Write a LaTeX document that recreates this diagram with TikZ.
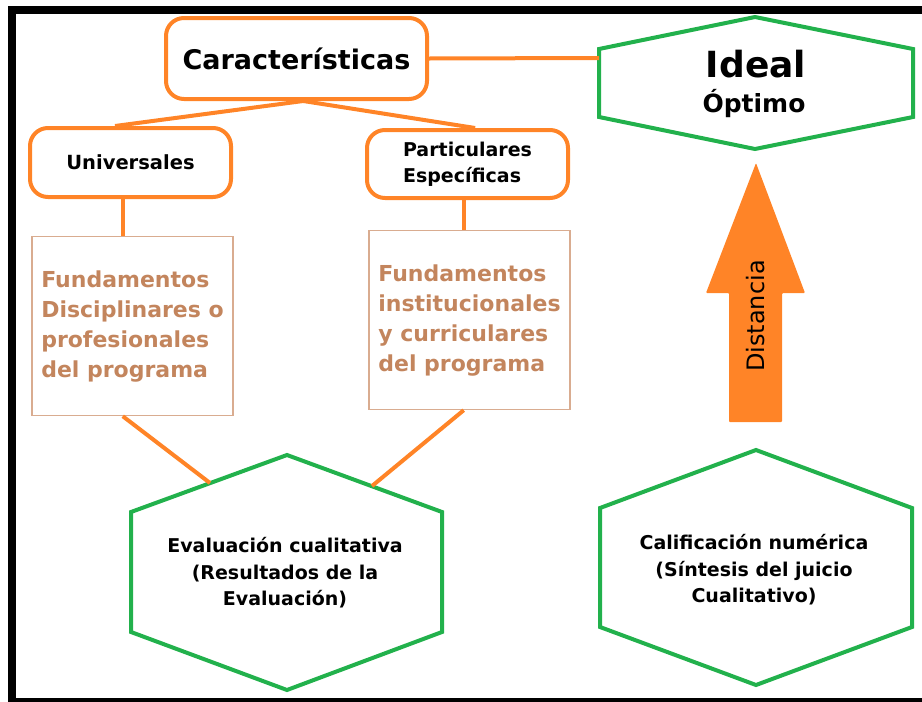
\documentclass[tikz,border=0pt]{standalone}
\usepackage{fontspec}
\setmainfont{DejaVu Sans}
\usetikzlibrary{
	positioning,   %定位
	calc           %计算
}
\definecolor{naranja}{HTML}{FF8427}
\definecolor{verde}{HTML}{22B14C}
\definecolor{cafe}{HTML}{C3855D}
\definecolor{cafeclaro}{HTML}{D9AC90}
\tikzstyle{caja}=[rectangle,
draw=naranja,
line width=4pt,
rounded corners=18pt,
inner sep=0pt]
\tikzstyle{fund}=[rectangle,
draw=cafeclaro,
line width=1.2pt,
text=cafe,
minimum width=201pt,
minimum height=179pt,
align=left,
inner sep=0pt,
font=\bfseries\fontsize{22}{30}\selectfont]
\tikzset{
	linea/.style={draw=naranja,line width=4pt},
	hexa/.style={draw=verde,line width=4pt,line join=miter},
	hexatexto/.style={align=center,font=\bfseries\fontsize{19}{26.5}\selectfont}
}

\begin{document}
\begin{tikzpicture}[x=1pt,y=-1pt]
\useasboundingbox (0,0) rectangle (922,702);
% marco
\fill (8,6) rectangle (922,14);
\fill (8,6) rectangle (16,702);
\fill (8,698) rectangle (922,702);
% cajas
\node[caja, minimum width=261pt, minimum height=81pt,
  font=\bfseries\fontsize{27}{32}\selectfont] (carac) at (296.5,58.5) {Características};
\node[caja, minimum width=201pt, minimum height=69pt,
  font=\bfseries\fontsize{19.5}{26}\selectfont] (univ) at (130.5,162.5) {Universales};
\node[caja, minimum width=201pt, minimum height=68pt, align=left,
  font=\bfseries\fontsize{19}{26}\selectfont] (part) at (467.5,164) {Particulares\\Específicas};
\node[fund, below=37pt of univ, xshift=2pt] (fund1) {Fundamentos\\Disciplinares o\\profesionales\\del programa};
\node[fund, below=33pt of part, xshift=2pt, yshift=3pt] (fund2) {Fundamentos\\institucionales\\y curriculares\\del programa};
% hexagonos
\draw[hexa] (755,17) -- (913,49) -- (913,117) -- (755,149) -- (599,117) -- (599,49) -- cycle;
\draw[hexa] (287,455) -- (442,512) -- (442,632) -- (287,690) -- (131,632) -- (131,512) -- cycle;
\draw[hexa] (756,450) -- (912,508) -- (912,627) -- (756,685) -- (600,627) -- (600,508) -- cycle;
\coordinate (idealW) at (599,58);
\coordinate (evalA) at (210,483);
\coordinate (evalB) at (372,486);
\node[anchor=base, font=\bfseries\fontsize{36}{40}\selectfont] (ideal) at (756,77) {Ideal};
\node[anchor=base, font=\bfseries\fontsize{25}{30}\selectfont] (optimo) at (754,112) {Óptimo};
\node[hexatexto] (evalt) at (285,573) {Evaluación cualitativa\\(Resultados de la\\Evaluación)};
\node[hexatexto] (calif) at (754,570) {Calificación numérica\\(Síntesis del juicio\\Cualitativo)};
% flecha
\fill[naranja, rounded corners=1pt] (729,422) -- (729,293) -- (706,293) -- (756,163)
  -- (805,293) -- (782,293) -- (782,422) -- cycle;
\node[rotate=90, font=\fontsize{24}{28}\selectfont] (dist) at (756,316) {Distancia};
% conectores
\draw[linea] (carac.-81) -- (univ.113);
\draw[linea] (carac.-81) -- (part.78);
\draw[linea] (carac.east) -- (idealW);
\draw[linea] (univ.-102) -- (univ.-102 |- fund1.north);
\draw[linea] (part.-96) -- (part.-96 |- fund2.north);
\draw[linea] (univ.-102 |- fund1.south) -- (evalA);
\draw[linea] (part.-96 |- fund2.south) -- (evalB);
\end{tikzpicture}
\end{document}
